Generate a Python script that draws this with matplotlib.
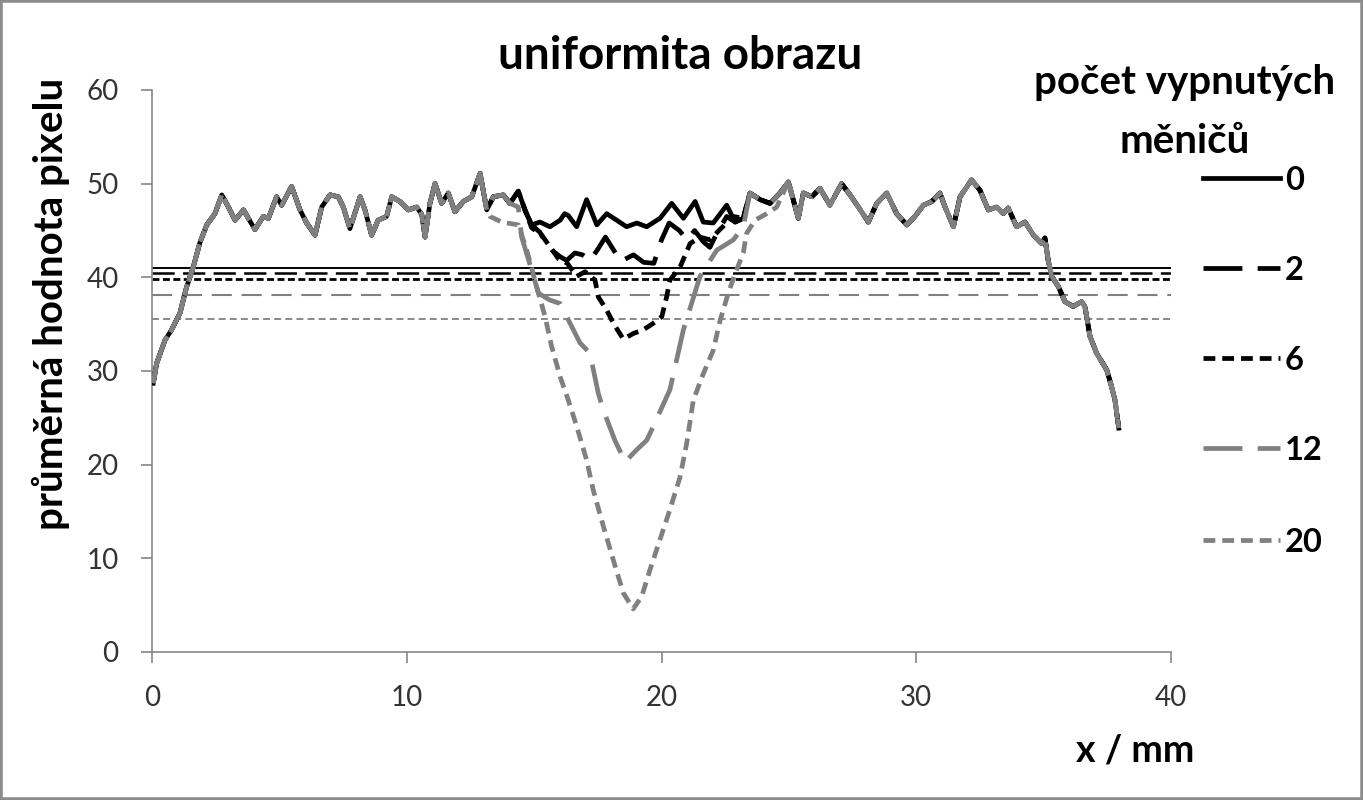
import numpy as np
import matplotlib
matplotlib.use('Agg')
from matplotlib import pyplot as plt
from matplotlib.lines import Line2D
from matplotlib.patches import Rectangle

plt.rcParams['font.family'] = ['Lato', 'DejaVu Sans']
plt.rcParams['lines.scale_dashes'] = False

# profile edges, identical for all series
x_left = [0.05, 0.18, 0.51, 0.77, 1.10, 1.36, 1.62, 1.88, 2.15, 2.47, 2.74, 3.00,
          3.26, 3.59, 4.04, 4.37, 4.57, 4.89, 5.09, 5.48, 5.81, 6.07, 6.40, 6.66,
          6.99, 7.31, 7.51, 7.77, 8.17, 8.36, 8.62, 8.88, 9.21, 9.41, 9.73, 10.06,
          10.39, 10.59, 10.72, 10.91, 11.11, 11.37, 11.63, 11.89, 12.22, 12.55, 12.88]
y_left = [28.7, 30.8, 33.3, 34.4, 36.2, 39.0, 41.1, 43.7, 45.6, 46.8, 48.8, 47.5,
          46.1, 47.2, 45.1, 46.5, 46.3, 48.6, 47.7, 49.7, 47.2, 45.8, 44.5, 47.5,
          48.8, 48.6, 47.5, 45.2, 48.6, 47.2, 44.5, 46.1, 46.5, 48.6, 48.1, 47.2,
          47.5, 46.7, 44.3, 47.9, 50.0, 47.9, 49.0, 47.0, 48.1, 48.6, 51.1]

x_right = [25.37, 25.57, 25.90, 26.22, 26.61, 27.07, 27.40, 27.73, 28.12, 28.45,
           28.84, 29.23, 29.63, 29.95, 30.28, 30.61, 30.93, 31.13, 31.46, 31.72,
           32.17, 32.50, 32.83, 33.16, 33.42, 33.61, 33.94, 34.27, 34.60, 34.92,
           35.05, 35.18, 35.32, 35.58, 35.84, 36.16, 36.49, 36.62, 36.82, 37.08,
           37.48, 37.67, 37.80, 37.95]
y_right = [46.3, 49.0, 48.6, 49.5, 47.7, 50.0, 48.8, 47.5, 45.9, 47.9,
           49.0, 46.8, 45.6, 46.5, 47.7, 48.1, 49.0, 47.5, 45.4, 48.6,
           50.4, 49.3, 47.2, 47.5, 46.8, 47.4, 45.4, 45.9, 44.5, 43.6,
           44.2, 41.8, 40.1, 39.0, 37.4, 36.9, 37.4, 36.9, 33.7, 31.9,
           30.1, 28.3, 26.9, 23.9]

# middle part of the profile for each number of switched-off transducers
x_mid_0 = [13.14, 13.40, 13.79, 14.05, 14.38, 14.64, 14.90, 15.23, 15.62, 16.02,
           16.20, 16.34, 16.67, 17.06, 17.46, 17.85, 18.24, 18.63, 19.03, 19.42,
           19.94, 20.40, 20.86, 21.32, 21.64, 22.03, 22.56, 22.89, 23.21, 23.47,
           23.87, 24.26, 24.65, 24.98]
y_mid_0 = [47.2, 48.6, 48.8, 47.9, 49.2, 47.2, 45.6, 45.9, 45.4, 46.1,
           46.8, 46.6, 45.4, 48.3, 45.6, 46.8, 46.1, 45.4, 45.8, 45.4,
           46.3, 47.9, 46.3, 48.1, 45.9, 45.8, 47.7, 45.9, 46.3, 49.0,
           48.3, 47.9, 49.0, 50.2]

x_mid_2 = [13.14, 13.40, 13.79, 14.05, 14.38, 14.64, 14.90, 15.23, 15.50, 15.70,
           16.02, 16.28, 16.60, 16.90, 17.20, 17.50, 17.80, 18.10, 18.40, 18.90,
           19.30, 19.70, 20.00, 20.30, 20.70, 21.00, 21.30, 21.64, 21.90, 22.17,
           22.56, 22.89, 23.21, 23.47, 23.87, 24.26, 24.65, 24.98]
y_mid_2 = [47.2, 48.6, 48.8, 47.9, 49.2, 47.2, 45.6, 44.8, 43.5, 42.9,
           42.2, 41.8, 42.6, 42.4, 41.8, 43.0, 44.3, 43.0, 41.7, 42.4,
           41.6, 41.5, 44.0, 45.8, 45.0, 44.0, 45.0, 43.8, 43.2, 44.7,
           46.5, 45.9, 46.3, 49.0, 48.3, 47.9, 49.0, 50.2]

x_mid_6 = [13.14, 13.40, 13.79, 14.05, 14.38, 14.64, 14.90, 15.30, 15.95, 16.30,
           16.67, 17.00, 17.39, 17.52, 17.85, 18.11, 18.50, 18.89, 19.29, 19.68,
           20.01, 20.20, 20.33, 20.73, 21.12, 21.51, 21.90, 22.29, 22.82, 23.21,
           23.47, 23.87, 24.26, 24.65, 24.98]
y_mid_6 = [47.2, 48.6, 48.8, 47.9, 49.2, 47.2, 45.3, 44.5, 42.0, 41.5,
           40.1, 40.6, 39.7, 37.9, 36.5, 35.1, 33.4, 34.0, 34.4, 35.1,
           35.8, 37.9, 39.7, 41.1, 43.6, 44.3, 44.0, 45.1, 46.5, 46.3,
           49.0, 48.3, 47.9, 49.0, 50.2]

x_mid_12 = [13.14, 13.40, 13.79, 14.05, 14.38, 14.51, 14.90, 15.17, 15.60, 16.02,
            16.28, 16.80, 17.19, 17.52, 17.72, 18.17, 18.57, 19.03, 19.42, 19.68,
            20.33, 20.86, 21.51, 22.17, 22.82, 23.21, 23.47, 23.87, 24.26, 24.65,
            24.98]
y_mid_12 = [47.2, 48.6, 48.8, 47.9, 47.5, 44.3, 40.8, 38.3, 37.6, 37.2,
            35.8, 33.0, 31.9, 27.6, 25.8, 22.6, 20.3, 21.6, 22.6, 24.1,
            28.0, 34.4, 40.1, 42.9, 44.0, 45.4, 49.0, 48.3, 47.9, 49.0,
            50.2]

x_mid_20 = [13.14, 13.27, 13.73, 14.38, 14.71, 15.10, 15.43, 15.69, 16.02, 16.34,
            16.67, 17.06, 17.32, 17.72, 18.11, 18.50, 18.89, 19.22, 19.55, 19.94,
            20.33, 20.73, 20.99, 21.25, 21.64, 22.03, 22.30, 22.62, 22.89, 23.21,
            23.34, 23.67, 24.13, 24.52, 24.98]
y_mid_20 = [47.2, 46.5, 45.9, 45.6, 42.9, 39.0, 35.8, 32.6, 29.4, 26.9,
            24.1, 20.5, 17.3, 13.4, 9.8, 6.3, 4.6, 5.9, 8.8, 12.0,
            15.2, 18.7, 22.3, 26.9, 29.7, 32.2, 35.4, 38.3, 40.4, 42.6,
            44.7, 46.1, 46.8, 47.5, 50.2]

labels = ['0', '2', '6', '12', '20']
means = [41.0, 40.5, 39.8, 38.1, 35.5]
mids = [(x_mid_0, y_mid_0), (x_mid_2, y_mid_2), (x_mid_6, y_mid_6),
        (x_mid_12, y_mid_12), (x_mid_20, y_mid_20)]

GRAY = '#808080'
LW = 3.4
curve_styles = [
    dict(color='black', linestyle='-'),
    dict(color='black', dashes=(28, 11)),
    dict(color='black', dashes=(8.5, 5)),
    dict(color=GRAY, dashes=(28, 11)),
    dict(color=GRAY, dashes=(8.5, 5)),
]
mean_styles = [
    dict(color='black', linestyle='-', lw=1.4),
    dict(color='black', dashes=(16, 6), lw=1.8),
    dict(color='black', dashes=(5, 2.5), lw=2.0),
    dict(color=GRAY, dashes=(14.5, 7), lw=1.5),
    dict(color=GRAY, dashes=(5, 3), lw=1.3),
]

W, H = 1363, 800
fig = plt.figure(figsize=(W / 100, H / 100), dpi=100)
ax = fig.add_axes([152 / W, 1 - 652 / H, (1171 - 152) / W, (652 - 90) / H])

for m, st in zip(means, mean_styles):
    ax.plot([0, 40], [m, m], solid_capstyle='butt', dash_capstyle='butt', zorder=2, **st)

curves = []
for (xm, ym), st in zip(mids, curve_styles):
    x = np.concatenate([x_left, xm, x_right])
    y = np.concatenate([y_left, ym, y_right])
    ln, = ax.plot(x, y, lw=LW, dash_capstyle='butt', solid_joinstyle='round',
                  dash_joinstyle='round', zorder=3, **st)
    curves.append(ln)

ax.set_xlim(0, 40)
ax.set_ylim(0, 60)
ax.set_xticks([0, 10, 20, 30, 40])
ax.set_yticks([0, 10, 20, 30, 40, 50, 60])
for s in ['top', 'right']:
    ax.spines[s].set_visible(False)
for s in ['left', 'bottom']:
    ax.spines[s].set_color('#868686')
    ax.spines[s].set_linewidth(1.2)
ax.tick_params(direction='out', length=8, width=1.2, color='#868686',
               labelsize=20, labelcolor='#333333', pad=16)

fig.text(680 / W, 1 - 69.3 / H, 'uniformita obrazu', ha='center', va='baseline',
         fontsize=33, fontweight='bold')
fig.text(63.3 / W, 1 - 303.5 / H, 'průměrná hodnota pixelu', rotation=90,
         rotation_mode='anchor', ha='center', va='baseline',
         fontsize=29, fontweight='bold')
fig.text(1135 / W, 1 - 761.7 / H, 'x / mm', ha='center', va='baseline',
         fontsize=27, fontweight='bold')

# legend drawn by hand in figure coordinates
fig.text(1185 / W, 1 - 94.3 / H, 'počet vypnutých', ha='center', va='baseline',
         fontsize=29, fontweight='bold')
fig.text(1185 / W, 1 - 152.7 / H, 'měničů', ha='center', va='baseline',
         fontsize=29, fontweight='bold')
leg_y = [178.3, 268.3, 358.3, 448.3, 540]
for i, (lab, py) in enumerate(zip(labels, leg_y)):
    yy = 1 - py / H
    h = Line2D([1203 / W, 1280 / W], [yy, yy], transform=fig.transFigure,
               lw=LW, dash_capstyle='butt', **curve_styles[i])
    fig.add_artist(h)
    fig.text(1285 / W, 1 - (py + 11.5) / H, lab, ha='left', va='baseline',
             fontsize=23.5, fontweight='bold')

fig.add_artist(Rectangle((0, 0), 1, 1, transform=fig.transFigure, fill=False,
                         edgecolor='#8c8c8c', lw=4))

fig.savefig('out.png', dpi=100)
